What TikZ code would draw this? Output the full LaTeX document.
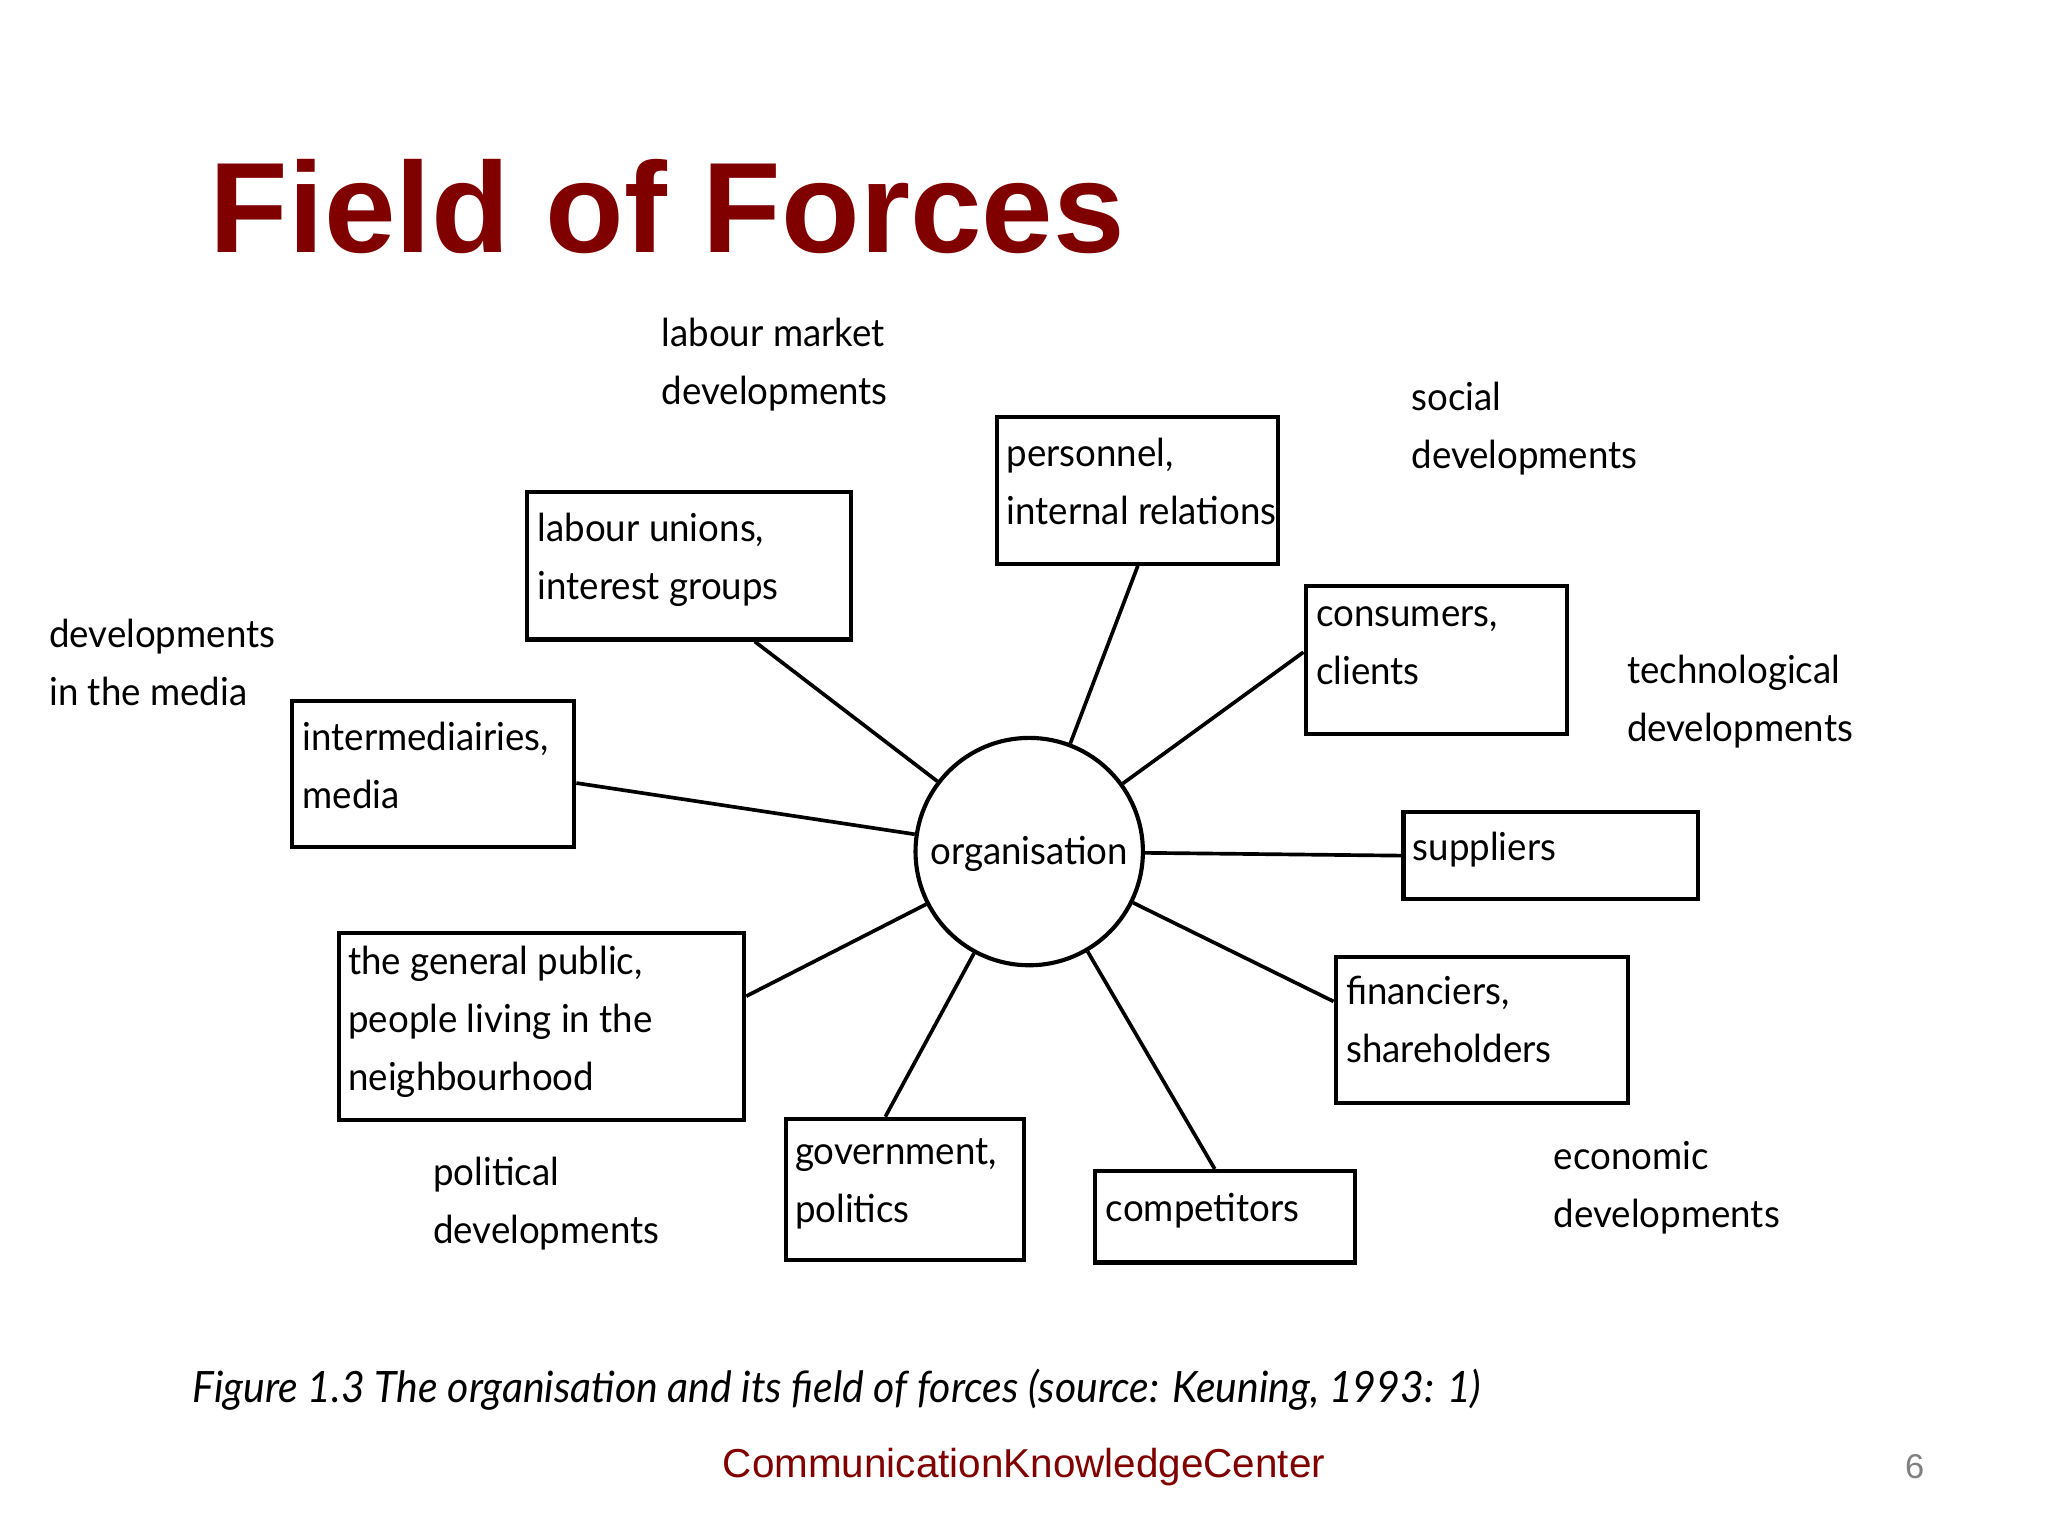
\documentclass[tikz,border=0pt]{standalone}
\usepackage{fontspec}
\setmainfont[FakeStretch=0.95]{Lato}
\newfontfamily\arialf{Liberation Sans}
\usetikzlibrary{calc}
\definecolor{titlered}{HTML}{800000}
\begin{document}
\begin{tikzpicture}[x=0.01cm,y=-0.01cm,
  bx/.style={draw,line width=0.9pt,inner sep=0pt,anchor=north west},
  lbl/.style={anchor=north west,align=left,font=\fontsize{8.4}{12.6}\selectfont,inner sep=0pt},
  con/.style={line width=0.8pt}]
\useasboundingbox (0,0) rectangle (1568,1176);
\node[anchor=west,font=\arialf\bfseries\fontsize{28}{30}\selectfont,text=titlered,inner sep=0pt] (title) at (160,158) {Field of Forces};
\node[circle,draw,line width=0.9pt,minimum size=1.74cm,inner sep=0pt] (org) at (788,652) {};
\node[font=\fontsize{8.4}{12.6}\selectfont] (orgt) at (788,654) {organisation};
% boxes
\node[bx,minimum width=2.15cm,minimum height=1.12cm] (pers) at (762,318) {};
\node[lbl] at (770,335) {personnel,\\internal relations};
\node[bx,minimum width=2.48cm,minimum height=1.13cm] (lu) at (402,375) {};
\node[lbl] at (411,392) {labour unions,\\interest groups};
\node[bx,minimum width=2.00cm,minimum height=1.13cm] (cons) at (998,447) {};
\node[lbl] at (1007,464) {consumers,\\clients};
\node[bx,minimum width=2.16cm,minimum height=1.12cm] (inter) at (222,535) {};
\node[lbl] at (231,552) {intermediairies,\\media};
\node[bx,minimum width=2.25cm,minimum height=0.67cm] (supp) at (1073,620) {};
\node[lbl] at (1081,636) {suppliers};
\node[bx,minimum width=3.10cm,minimum height=1.43cm] (pub) at (258,713) {};
\node[lbl] at (266,724) {the general public,\\people living in the\\neighbourhood};
\node[bx,minimum width=2.24cm,minimum height=1.12cm] (fin) at (1021,731) {};
\node[lbl] at (1030,747) {financiers,\\shareholders};
\node[bx,minimum width=1.82cm,minimum height=1.08cm] (gov) at (600,855) {};
\node[lbl] at (608,871) {government,\\politics};
\node[bx,minimum width=1.99cm,minimum height=0.70cm] (comp) at (837,895) {};
\node[lbl] at (846,913) {competitors};
% free labels
\node[lbl] (l1) at (506,243) {labour market\\developments};
\node[lbl] (l2) at (1080,292) {social\\developments};
\node[lbl] (l3) at (37,473) {developments\\in the media};
\node[lbl] (l4) at (1245,501) {technological\\developments};
\node[lbl] (l5) at (331,885) {political\\developments};
\node[lbl] (l6) at (1189,873) {economic\\developments};
% connectors
\draw[con] (pers.south) -- (org);
\draw[con] ($(lu.south west)!0.70!(lu.south east)$) -- (org);
\draw[con] ($(cons.north west)!0.45!(cons.south west)$) -- (org);
\draw[con] ($(inter.north east)!0.56!(inter.south east)$) -- (org);
\draw[con] (supp.west) -- (org);
\draw[con] ($(pub.north east)!0.34!(pub.south east)$) -- (org);
\draw[con] ($(fin.north west)!0.31!(fin.south west)$) -- (org);
\draw[con] ($(gov.north west)!0.42!(gov.north east)$) -- (org);
\draw[con] ($(comp.north west)!0.46!(comp.north east)$) -- (org);
% caption
\node[anchor=west,font=\itshape\fontsize{9.4}{12}\selectfont,inner sep=0pt] (cap) at (147,1064) {Figure 1.3 The organisation and its field of forces (source: Keuning, 1993: 1)};
\node[font=\arialf\fontsize{8.8}{11}\selectfont,text=titlered,inner sep=0pt] (foot) at (784,1123) {CommunicationKnowledgeCenter};
\node[font=\arialf\fontsize{7.5}{10}\selectfont,text=gray,inner sep=0pt] (pg) at (1466,1123) {6};
\end{tikzpicture}
\end{document}
